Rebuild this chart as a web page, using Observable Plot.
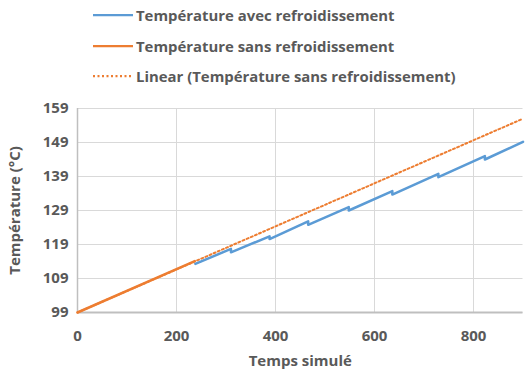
<!DOCTYPE html>
<html><head><meta charset="utf-8">
<script src="https://cdn.jsdelivr.net/npm/d3@7"></script>
<script src="https://cdn.jsdelivr.net/npm/@observablehq/plot@0.6"></script>
<style>
body{margin:0;background:#fff;font-family:"Open Sans",sans-serif;}
#legend{height:92px;position:relative;width:525px;}
.item{position:absolute;left:93px;height:20px;display:flex;align-items:center;font-weight:bold;font-size:14.9px;color:#595959;white-space:nowrap;}
.item svg{margin-right:3px;}
</style></head><body>
<div id="legend"></div><div id="chart"></div>
<script>
const seriesNames = ["Température avec refroidissement","Température sans refroidissement","Linear (Température sans refroidissement)"];
const seriesColors = ["#5b9bd5","#ed7d31","#ed7d31"];
const orangeTime = [0, 237];
const orangeTemp = [99, 114.1];
const blueTime = [238, 310, 310, 388, 388, 466, 466, 548, 548, 636, 636, 729, 729, 823, 823, 900];
const blueTemp = [113.3, 117.7, 116.7, 121.4, 120.6, 125.8, 124.8, 130.0, 129.0, 134.7, 133.7, 139.8, 138.8, 145.0, 144.0, 149.2];
const trendTime = [0, 900];
const trendTemp = [99, 156];
const xTicks = [0, 200, 400, 600, 800];
const yTicks = [99, 109, 119, 129, 139, 149, 159];

const toRows = (xs, ys) => xs.map((x, i) => ({x, y: ys[i]}));
const orange = toRows(orangeTime, orangeTemp);
const blue = toRows(blueTime, blueTemp);
const trend = toRows(trendTime, trendTemp);

// legend
const legend = document.getElementById("legend");
const legendTops = [5, 35.5, 66];
seriesNames.forEach((name, i) => {
  const d = document.createElement("div");
  d.className = "item";
  d.style.top = legendTops[i] + "px";
  const dash = i === 2 ? 'stroke-dasharray="2 2.5"' : '';
  d.innerHTML = `<svg width="40" height="4"><line x1="0" x2="40" y1="2" y2="2" stroke="${seriesColors[i]}" stroke-width="2.25" ${dash}/></svg><span>${name}</span>`;
  legend.appendChild(d);
});

const chart = Plot.plot({
  width: 525, height: 281,
  marginTop: 16, marginBottom: 61, marginLeft: 77, marginRight: 2.5,
  style: {fontFamily: "Open Sans", fontSize: "15px", fontWeight: "bold", color: "#595959", background: "#fff"},
  x: {domain: [0, 900]},
  y: {domain: [99, 159]},
  marks: [
    Plot.gridX(xTicks, {stroke: "#d9d9d9", strokeOpacity: 1, strokeWidth: 1}),
    Plot.gridY(yTicks, {stroke: "#d9d9d9", strokeOpacity: 1, strokeWidth: 1}),
    Plot.ruleX([0], {stroke: "#bfbfbf", strokeWidth: 1.5}),
    Plot.ruleY([99], {stroke: "#bfbfbf", strokeWidth: 2}),
    Plot.axisX(xTicks, {tickSize: 0, tickPadding: 18, label: "Temps simulé", labelAnchor: "center", labelArrow: "none", labelOffset: 53, fill: "#595959"}),
    Plot.axisY(yTicks, {tickSize: 0, tickPadding: 9, label: "Température (°C)", labelAnchor: "center", labelArrow: "none", labelOffset: 68, fill: "#595959"}),
    Plot.line(trend, {x: "x", y: "y", stroke: "#ed7d31", strokeWidth: 2, strokeDasharray: "2 2.5"}),
    Plot.line(orange, {x: "x", y: "y", stroke: "#ed7d31", strokeWidth: 2.5}),
    Plot.line(blue, {x: "x", y: "y", stroke: "#5b9bd5", strokeWidth: 2.5})
  ]
});
document.getElementById("chart").appendChild(chart);
</script>
</body></html>
